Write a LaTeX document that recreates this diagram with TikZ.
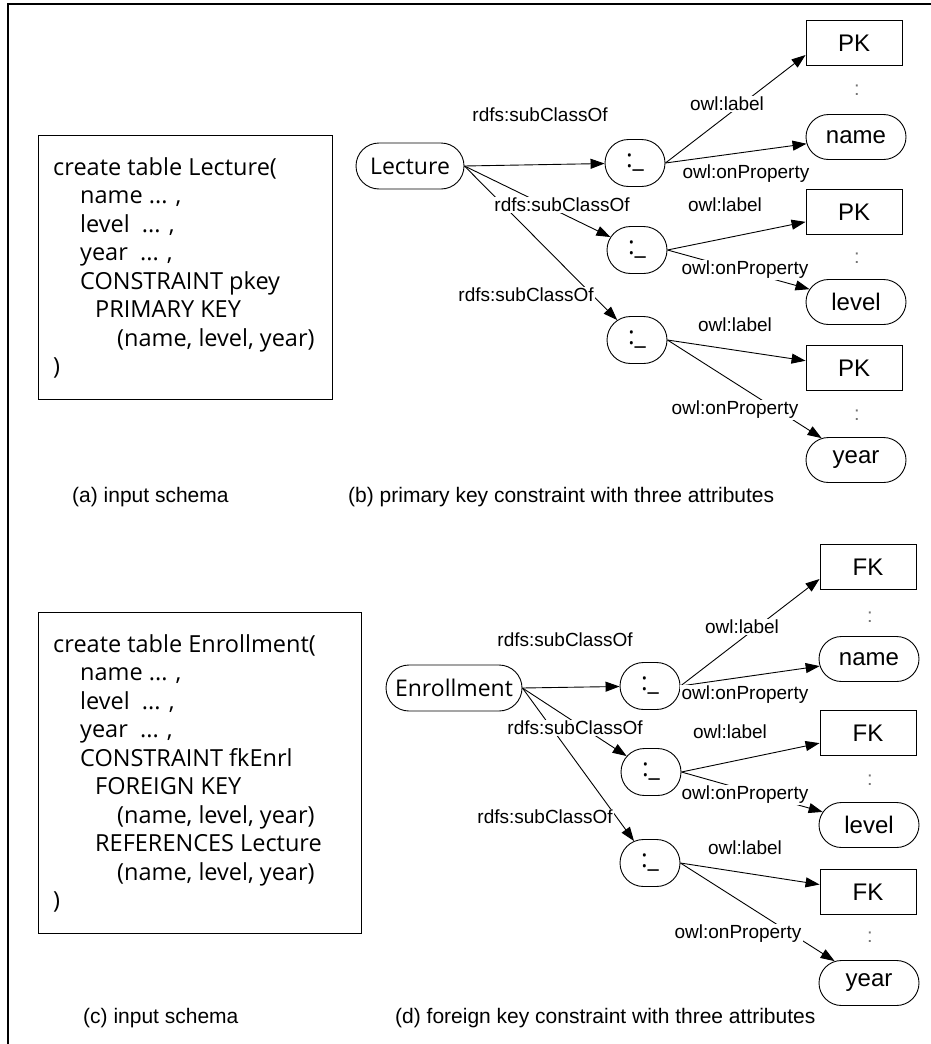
\documentclass[tikz,border=0pt]{standalone}
\usepackage{fontspec}
\setmainfont{Liberation Sans}
\newfontfamily\sqlfont{Open Sans}
\usetikzlibrary{arrows.meta,shapes.misc}

\begin{document}
\begin{tikzpicture}[x=1pt,y=-1pt,
  every node/.style={inner sep=0pt},
  cls/.style={draw, line width=0.9pt, rounded rectangle, minimum height=46pt, font=\sqlfont\fontsize{23}{26}\selectfont},
  blank/.style={draw, line width=0.9pt, rounded rectangle, minimum width=60pt, minimum height=47pt, font=\sqlfont\fontsize{25}{26}\selectfont},
  attr/.style={draw, line width=0.9pt, rounded rectangle, minimum width=100pt, minimum height=45pt, font=\fontsize{24}{26}\selectfont},
  keybox/.style={draw, line width=0.9pt, rectangle, minimum width=96pt, minimum height=45pt, font=\fontsize{24}{26}\selectfont},
  lbl/.style={fill=white, inner sep=1.5pt, font=\fontsize{19}{20}\selectfont},
  figcaption/.style={anchor=west, font=\fontsize{21}{24}\selectfont},
  sep/.style={font=\fontsize{20}{20}\selectfont, text=black!55},
  schema/.style={draw, line width=0.9pt, anchor=north west},
  sql/.style={anchor=base west, font=\sqlfont\fontsize{23.5}{28.5}\selectfont},
  arr/.style={draw, line width=0.9pt, -{Triangle[length=14pt,width=10pt]}}
]
\path[use as bounding box] (0,0) rectangle (931,1044);

% outer frame
\draw[line width=1.3pt] (8,1044) -- (8,4) -- (931,4);

% ---------- (a) input schema ----------
\node[schema, minimum width=294pt, minimum height=264pt] (boxa) at (38,135) {};
\node[sql] (sqla) at (53,175) {\begin{tabular}[t]{@{}l@{}}
create table Lecture(\\
\hspace*{27pt}name ... ,\\
\hspace*{27pt}level\ \ ... ,\\
\hspace*{27pt}year\ \ ... ,\\
\hspace*{27pt}CONSTRAINT pkey\\
\hspace*{42pt}PRIMARY KEY\\
\hspace*{64pt}(name, level, year)\\
)
\end{tabular}};
\node[figcaption] (capa) at (72,497) {(a) input schema};

% ---------- (b) primary key constraint ----------
\node[cls, minimum width=108pt] (lec) at (410,166) {Lecture};
\node[blank] (b1) at (635,163) {:\_};
\node[blank] (b2) at (637,250) {:\_};
\node[blank] (b3) at (637,340) {:\_};
\node[keybox] (pk1) at (854,43) {PK};
\node[attr] (nm1) at (856,137) {name};
\node[keybox] (pk2) at (854,212) {PK};
\node[attr] (lv1) at (856,302) {level};
\node[keybox] (pk3) at (854,368) {PK};
\node[attr] (yr1) at (856,460) {year};
\node[sep] (sa1) at (857,90) {:};
\node[sep] (sa2) at (857,258) {:};
\node[sep] (sa3) at (857,415) {:};

\draw[arr] (lec.east) -- (b1);
\draw[arr] (lec.east) -- (b2);
\draw[arr] (lec.east) -- (b3);
\draw[arr] (b1.east) -- ([yshift=-12pt]pk1.west);
\draw[arr] (b1.east) -- (nm1);
\draw[arr] (b2.east) -- (pk2);
\draw[arr] (b2.east) -- (lv1);
\draw[arr] (b3.east) -- (pk3);
\draw[arr] (b3.east) -- (yr1);

\node[lbl] (la1) at (540,115) {rdfs:subClassOf};
\node[lbl] (la2) at (562,205) {rdfs:subClassOf};
\node[lbl] (la3) at (526,295) {rdfs:subClassOf};
\node[lbl] (oa1) at (727,104) {owl:label};
\node[lbl] (pa1) at (746,174) {owl:onProperty};
\node[lbl] (oa2) at (725,205) {owl:label};
\node[lbl] (pa2) at (745,270) {owl:onProperty};
\node[lbl] (oa3) at (735,325) {owl:label};
\node[lbl] (pa3) at (735,410) {owl:onProperty};

\node[figcaption] (capb) at (348,497) {(b) primary key constraint with three attributes};

% ---------- (c) input schema ----------
\node[schema, minimum width=323pt, minimum height=321pt] (boxc) at (38,612) {};
\node[sql] (sqlc) at (53,652) {\begin{tabular}[t]{@{}l@{}}
create table Enrollment(\\
\hspace*{27pt}name ... ,\\
\hspace*{27pt}level\ \ ... ,\\
\hspace*{27pt}year\ \ ... ,\\
\hspace*{27pt}CONSTRAINT fkEnrl\\
\hspace*{42pt}FOREIGN KEY\\
\hspace*{64pt}(name, level, year)\\
\hspace*{42pt}REFERENCES Lecture\\
\hspace*{64pt}(name, level, year)\\
)
\end{tabular}};
\node[figcaption] (capc) at (83,1018) {(c) input schema};

% ---------- (d) foreign key constraint ----------
\node[cls, minimum width=136pt] (enr) at (454,688) {Enrollment};
\node[blank] (c1) at (650,686) {:\_};
\node[blank] (c2) at (651,772) {:\_};
\node[blank] (c3) at (650,863) {:\_};
\node[keybox] (fk1) at (868,567) {FK};
\node[attr] (nm2) at (869,659) {name};
\node[keybox] (fk2) at (868,733) {FK};
\node[attr] (lv2) at (869,825) {level};
\node[keybox] (fk3) at (868,892) {FK};
\node[attr] (yr2) at (869,983) {year};
\node[sep] (sc1) at (870,617) {:};
\node[sep] (sc2) at (870,780) {:};
\node[sep] (sc3) at (870,937) {:};

\draw[arr] (enr.east) -- (c1);
\draw[arr] (enr.east) -- (c2);
\draw[arr] (enr.east) -- (c3);
\draw[arr] (c1.east) -- ([yshift=-12pt]fk1.west);
\draw[arr] (c1.east) -- (nm2);
\draw[arr] (c2.east) -- (fk2);
\draw[arr] (c2.east) -- (lv2);
\draw[arr] (c3.east) -- (fk3);
\draw[arr] (c3.east) -- (yr2);

\node[lbl] (lc1) at (565,640) {rdfs:subClassOf};
\node[lbl] (lc2) at (575,728) {rdfs:subClassOf};
\node[lbl] (lc3) at (545,817) {rdfs:subClassOf};
\node[lbl] (oc1) at (742,627) {owl:label};
\node[lbl] (pc1) at (745,695) {owl:onProperty};
\node[lbl] (oc2) at (730,732) {owl:label};
\node[lbl] (pc2) at (745,795) {owl:onProperty};
\node[lbl] (oc3) at (745,848) {owl:label};
\node[lbl] (pc3) at (738,934) {owl:onProperty};

\node[figcaption] (capd) at (395,1018) {(d) foreign key constraint with three attributes};
\end{tikzpicture}
\end{document}
